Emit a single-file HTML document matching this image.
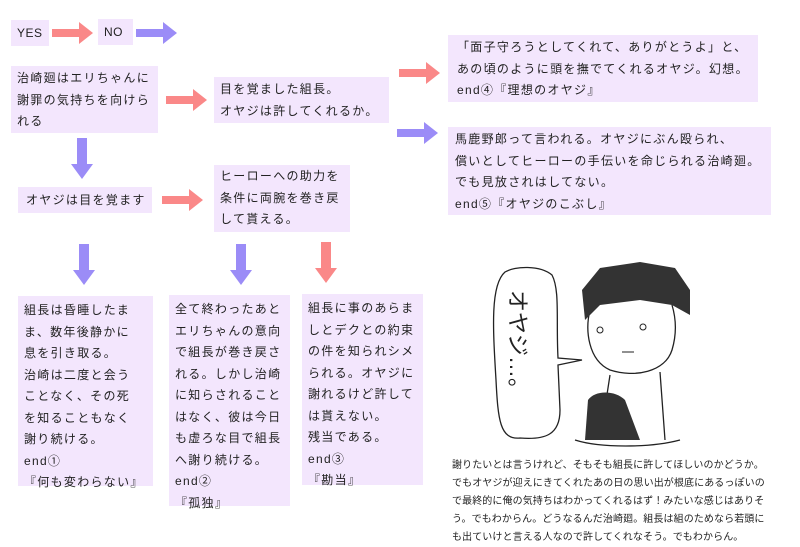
<!DOCTYPE html>
<html><head><meta charset="utf-8"><style>
body{margin:0;width:800px;height:539px;background:#fff;position:relative;overflow:hidden;font-family:"Liberation Sans","Noto Sans CJK JP",sans-serif;color:#222}
.b{position:absolute;background:#f3e6fd;font-size:12px;line-height:21.5px;letter-spacing:1.3px;box-sizing:border-box;padding:0 6px;white-space:nowrap}
svg{position:absolute;left:0;top:0}
.cap{position:absolute;left:452px;top:457px;font-size:10px;line-height:18px;letter-spacing:0.1px;color:#222;white-space:nowrap}
</style></head><body>
<svg width="800" height="539">
<defs>
<g id="ar"><polygon points="0,-4 27,-4 27,-11 41,0 27,11 27,4 0,4"/></g>
<g id="ad"><polygon points="-5,0 5,0 5,26 11,26 0,41 -11,26 -5,26"/></g>
</defs>
<g fill="#fa8888">
<use href="#ar" x="52" y="33"/>
<use href="#ar" x="166" y="100"/>
<use href="#ar" x="162" y="200"/>
<use href="#ar" x="399" y="73"/>
<use href="#ad" x="326" y="242"/>
</g>
<g fill="#9b8cf7">
<use href="#ar" x="136" y="33"/>
<use href="#ar" x="397" y="133"/>
<use href="#ad" x="82" y="138"/>
<use href="#ad" x="84" y="244"/>
<use href="#ad" x="241" y="244"/>
</g>
<g stroke="#222" stroke-width="1.3" fill="none">
<path d="M505,272 C490,285 493,330 496,380 C498,420 500,440 520,438 C545,440 560,435 560,410 L558,365 L582,360 L558,358 C556,320 560,290 552,275 C540,265 515,266 505,272 Z" fill="#fff"/>
<path d="M590,310 C585,330 588,360 610,370 C635,378 665,372 672,350 C678,330 675,315 672,305"/>
<path d="M610,375 L600,440 M660,372 L665,440"/>
<path d="M575,440 C600,448 650,448 680,440"/>
</g>
<path d="M585,320 L582,290 L600,268 L640,262 L675,268 L690,290 L690,315 L672,305 L640,300 L600,305 Z" fill="#333"/>
<path d="M585,440 L588,400 C595,390 615,390 625,400 L640,440 Z" fill="#333"/>
<g fill="#222" font-size="22" font-family="Liberation Sans,Noto Sans CJK JP,sans-serif">
<text x="510" y="310" transform="rotate(90 520 300)">オヤジ…。</text>
</g>
<circle cx="600" cy="330" r="3" fill="none" stroke="#222"/><circle cx="643" cy="327" r="3" fill="none" stroke="#222"/>
<path d="M622,352 L634,352" stroke="#222"/>
</svg>

<div class="b" style="left:11px;top:20px;width:38px;height:26px;line-height:26px;letter-spacing:0.5px">YES</div>
<div class="b" style="left:98px;top:19px;width:35px;height:26px;line-height:26px;letter-spacing:0.5px">NO</div>
<div class="b" style="left:11px;top:66px;width:147px;height:67px;padding-top:2px">治崎廻はエリちゃんに<br>謝罪の気持ちを向けら<br>れる</div>
<div class="b" style="left:214px;top:77px;width:175px;height:46px;padding-top:2px">目を覚ました組長。<br>オヤジは許してくれるか。</div>
<div class="b" style="left:448px;top:35px;width:310px;height:67px;padding-left:9px;padding-top:2px"> 「面子守ろうとしてくれて、ありがとうよ」と、<br>あの頃のように頭を撫でてくれるオヤジ。幻想。<br>end④『理想のオヤジ』</div>
<div class="b" style="left:448px;top:127px;width:323px;height:88px;padding-top:2px;padding-left:7px">馬鹿野郎って言われる。オヤジにぶん殴られ、<br>償いとしてヒーローの手伝いを命じられる治崎廻。<br>でも見放されはしてない。<br>end⑤『オヤジのこぶし』</div>
<div class="b" style="left:18px;top:187px;width:134px;height:26px;line-height:26px;padding-left:8px">オヤジは目を覚ます</div>
<div class="b" style="left:214px;top:165px;width:136px;height:67px;padding-top:1px">ヒーローへの助力を<br>条件に両腕を巻き戻<br>して貰える。</div>
<div class="b" style="left:18px;top:296px;width:135px;height:190px;padding-top:4px">組長は昏睡したま<br>ま、数年後静かに<br>息を引き取る。<br>治崎は二度と会う<br>ことなく、その死<br>を知ることもなく<br>謝り続ける。<br>end①<br>『何も変わらない』</div>
<div class="b" style="left:169px;top:295px;width:121px;height:211px;padding-top:4px">全て終わったあと<br>エリちゃんの意向<br>で組長が巻き戻さ<br>れる。しかし治崎<br>に知らされること<br>はなく、彼は今日<br>も虚ろな目で組長<br>へ謝り続ける。<br>end②<br>『孤独』</div>
<div class="b" style="left:302px;top:294px;width:121px;height:191px;padding-top:4px">組長に事のあらま<br>しとデクとの約束<br>の件を知られシメ<br>られる。オヤジに<br>謝れるけど許して<br>は貰えない。<br>残当である。<br>end③<br>『勘当』</div>
<div class="cap">謝りたいとは言うけれど、そもそも組長に許してほしいのかどうか。<br>でもオヤジが迎えにきてくれたあの日の思い出が根底にあるっぽいの<br>で最終的に俺の気持ちはわかってくれるはず！みたいな感じはありそ<br>う。でもわからん。どうなるんだ治崎廻。組長は組のためなら若頭に<br>も出ていけと言える人なので許してくれなそう。でもわからん。</div>
</body></html>
